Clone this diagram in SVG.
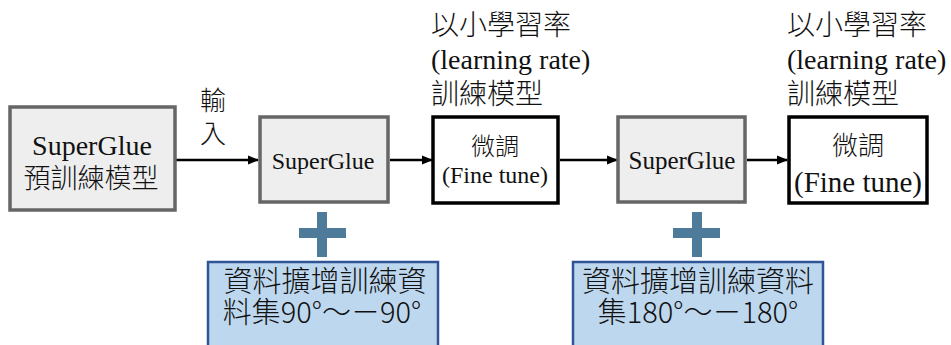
<svg xmlns="http://www.w3.org/2000/svg" width="951" height="345" viewBox="0 0 951 345">
<style>
.gray{fill:#eeeeee;stroke:#666666;stroke-width:3.5}
.white{fill:#ffffff;stroke:#000000;stroke-width:3.5}
.blue{fill:#bdd7ee;stroke:#2f5597;stroke-width:2.5}
.conn{stroke:#000;stroke-width:2.5;fill:none}
.plus{fill:#4f7b9a}
text{font-family:"Liberation Serif","Noto Sans CJK TC",serif;fill:#111;text-anchor:middle}
.cjk{font-family:"Noto Sans CJK TC",sans-serif;font-weight:300}
.lbl{text-anchor:start;font-size:28px}
.bt{font-family:"Noto Sans CJK TC",sans-serif;font-weight:300;font-size:29px}
</style>
<defs>
<marker id="ah" viewBox="0 0 10 10" refX="9" refY="5" markerWidth="4.5" markerHeight="4.5" orient="auto" markerUnits="strokeWidth">
<path d="M0,1 L10,5 L0,9 z" fill="#000"/>
</marker>
</defs>
<g id="connectors">
<line class="conn" x1="176" y1="160" x2="258" y2="160" marker-end="url(#ah)"/>
<line class="conn" x1="390" y1="160" x2="432" y2="160" marker-end="url(#ah)"/>
<line class="conn" x1="560" y1="160" x2="617" y2="160" marker-end="url(#ah)"/>
<line class="conn" x1="747" y1="160" x2="787" y2="160" marker-end="url(#ah)"/>
<text class="cjk" x="213" y="110" font-size="26">輸</text>
<text class="cjk" x="213" y="143" font-size="26">入</text>
</g>
<g id="pretrained">
<rect class="gray" x="10" y="107" width="165" height="103"/>
<text x="92" y="155" font-size="28">SuperGlue</text>
<text class="cjk" x="91" y="188" font-size="27">預訓練模型</text>
</g>
<g id="superglue1">
<rect class="gray" x="260" y="117" width="128" height="85"/>
<text x="323" y="169" font-size="24">SuperGlue</text>
</g>
<g id="finetune1">
<rect class="white" x="433" y="117" width="125" height="86"/>
<text class="cjk" x="495" y="155" font-size="24">微調</text>
<text x="495" y="183" font-size="24">(Fine tune)</text>
</g>
<g id="label1">
<text class="cjk lbl" x="431" y="35">以小學習率</text>
<text class="lbl" x="431" y="69">(learning rate)</text>
<text class="cjk lbl" x="431" y="104">訓練模型</text>
</g>
<g id="superglue2">
<rect class="gray" x="618" y="117" width="127" height="85"/>
<text x="682" y="169" font-size="25">SuperGlue</text>
</g>
<g id="finetune2">
<rect class="white" x="789" y="117" width="138" height="86"/>
<text class="cjk" x="858" y="155" font-size="26">微調</text>
<text x="858" y="192" font-size="29">(Fine tune)</text>
</g>
<g id="label2">
<text class="cjk lbl" x="787" y="35">以小學習率</text>
<text class="lbl" x="787" y="69">(learning rate)</text>
<text class="cjk lbl" x="787" y="104">訓練模型</text>
</g>
<g id="plus1">
<rect class="plus" x="317" y="212" width="10" height="45"/>
<rect class="plus" x="299" y="228" width="47" height="10"/>
</g>
<g id="plus2">
<rect class="plus" x="692" y="212" width="10" height="45"/>
<rect class="plus" x="673" y="228" width="47" height="10"/>
</g>
<g id="aug1">
<rect class="blue" x="208" y="262" width="230" height="90"/>
<text class="bt" x="325" y="292">資料擴增訓練資</text>
<text class="bt" x="322" y="323">料集90°～－90°</text>
</g>
<g id="aug2">
<rect class="blue" x="573" y="262" width="250" height="90"/>
<text class="bt" x="698" y="292">資料擴增訓練資料</text>
<text class="bt" x="698" y="323">集180°～－180°</text>
</g>
</svg>
